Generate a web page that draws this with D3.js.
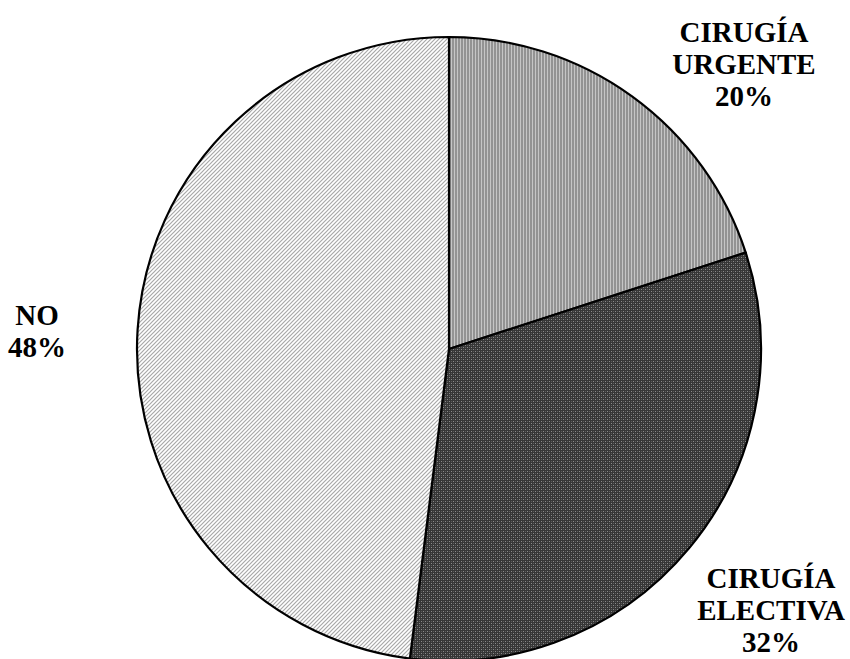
<!DOCTYPE html>
<html>
<head>
<meta charset="utf-8">
<script src="https://cdn.jsdelivr.net/npm/d3@7"></script>
</head>
<body>
<script>
// Distribution of surgery type
const categories = ["CIRUGÍA URGENTE", "CIRUGÍA ELECTIVA", "NO"];
const labelLines = [["CIRUGÍA", "URGENTE"], ["CIRUGÍA", "ELECTIVA"], ["NO"]];
const values = [20, 32, 48];
const patternIds = ["pat-vert", "pat-check", "pat-diag"];

const width = 850, height = 659;
const cx = 449, cy = 349, radius = 312;

d3.select("body").style("margin", "0px");

const svg = d3.select("body").append("svg")
  .attr("width", width).attr("height", height)
  .style("display", "block");

const defs = svg.append("defs");

// Vertical gray stripes
const pv = defs.append("pattern").attr("id", "pat-vert")
  .attr("patternUnits", "userSpaceOnUse").attr("width", 3).attr("height", 3);
pv.append("rect").attr("width", 3).attr("height", 3).attr("fill", "#939393");
pv.append("rect").attr("x", 2).attr("width", 1).attr("height", 3).attr("fill", "#c6c6c6");

// Dark dotted checker
const pc = defs.append("pattern").attr("id", "pat-check")
  .attr("patternUnits", "userSpaceOnUse").attr("width", 4).attr("height", 4);
pc.append("rect").attr("width", 4).attr("height", 4).attr("fill", "#363636");
pc.append("rect").attr("x", 0).attr("y", 0).attr("width", 1).attr("height", 1).attr("fill", "#8a8a8a");
pc.append("rect").attr("x", 2).attr("y", 2).attr("width", 1).attr("height", 1).attr("fill", "#8a8a8a");
pc.append("rect").attr("x", 2).attr("y", 0).attr("width", 1).attr("height", 1).attr("fill", "#5a5a5a");
pc.append("rect").attr("x", 0).attr("y", 2).attr("width", 1).attr("height", 1).attr("fill", "#5a5a5a");

// Light diagonal hatch
const pd = defs.append("pattern").attr("id", "pat-diag")
  .attr("patternUnits", "userSpaceOnUse").attr("width", 4).attr("height", 4);
pd.append("rect").attr("width", 4).attr("height", 4).attr("fill", "#ffffff");
pd.append("path").attr("d", "M-1,1 L1,-1 M0,4 L4,0 M3,5 L5,3")
  .attr("stroke", "#a8a8a8").attr("stroke-width", 1.2);

const pie = d3.pie().sort(null).value(d => d)
  .startAngle(0).endAngle(2 * Math.PI);
const arc = d3.arc().innerRadius(0).outerRadius(radius);

const g = svg.append("g").attr("transform", `translate(${cx},${cy})`);
g.selectAll("path.slice")
  .data(pie(values))
  .join("path")
  .attr("class", "slice")
  .attr("d", arc)
  .attr("fill", (d, i) => `url(#${patternIds[i]})`)
  .attr("stroke", "#000")
  .attr("stroke-width", 2.2)
  .attr("stroke-linejoin", "round");

// Labels: centre x and first-line baseline for each category
const labelPos = [[744, 42], [771, 588], [37, 325]];
const lineH = 32;

const labelRows = [];
labelLines.forEach((lines, i) => {
  lines.concat([values[i] + "%"]).forEach((s, j) => {
    labelRows.push({ text: s, x: labelPos[i][0], y: labelPos[i][1] + j * lineH });
  });
});

svg.selectAll("text")
  .data(labelRows)
  .join("text")
  .attr("x", d => d.x)
  .attr("y", d => d.y)
  .style("text-anchor", "middle")
  .style("font-family", '"Liberation Serif", "Tinos", serif')
  .style("font-weight", "bold")
  .style("font-size", "29px")
  .text(d => d.text);
</script>
</body>
</html>
